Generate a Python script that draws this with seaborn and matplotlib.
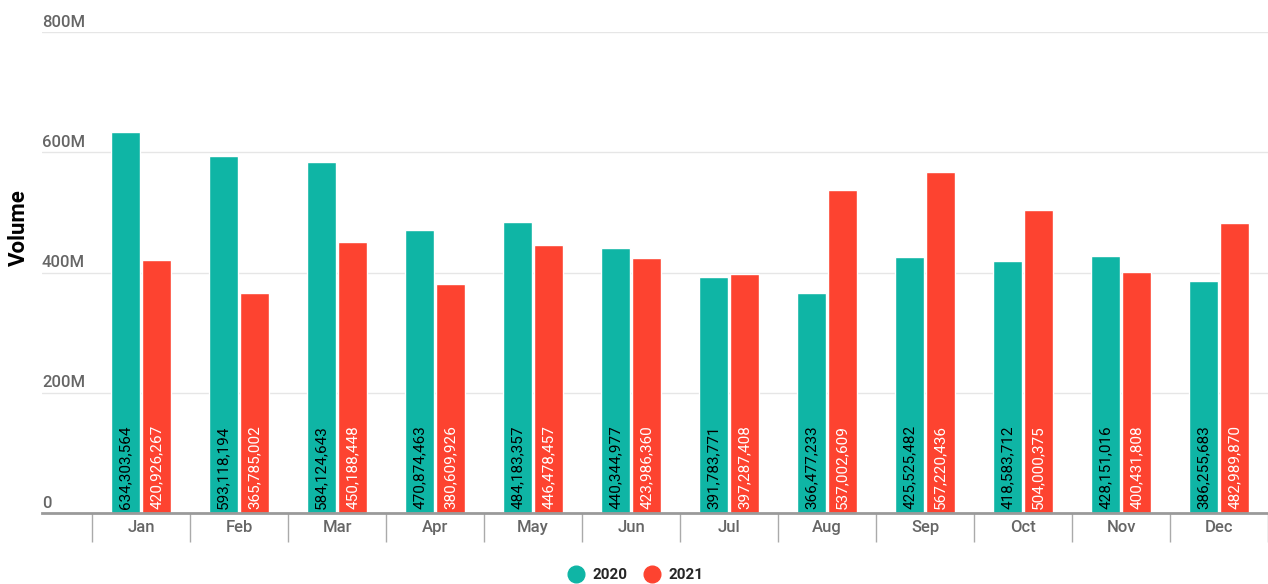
import pandas as pd
import seaborn as sns
import matplotlib.pyplot as plt

months = ["Jan", "Feb", "Mar", "Apr", "May", "Jun", "Jul", "Aug", "Sep", "Oct", "Nov", "Dec"]
vol_2020 = [634303564, 593118194, 584124643, 470874463, 484183357, 440344977,
            391783771, 366477233, 425525482, 418583712, 428151016, 386255683]
vol_2021 = [420926267, 365785002, 450188448, 380609926, 446478457, 423986360,
            397287408, 537002609, 567220436, 504000375, 400431808, 482989870]
years = ["2020", "2021"]
yticks = [0, 200e6, 400e6, 600e6, 800e6]
ytick_labels = ["0", "200M", "400M", "600M", "800M"]

df = pd.DataFrame({
    "Month": months * 2,
    "Year": ["2020"] * 12 + ["2021"] * 12,
    "Volume": vol_2020 + vol_2021,
})

sns.set_style("white")
plt.rcParams['font.family'] = ['Roboto', 'DejaVu Sans']

colors = {"2020": "#0FB5A5", "2021": "#FD4330"}

fig = plt.figure(figsize=(12.68, 5.84), dpi=100)
ax = fig.add_axes([42 / 1268, 71 / 584, 1 - 42 / 1268, (513 - 32) / 584])

sns.barplot(data=df, x="Month", y="Volume", hue="Year", order=months, hue_order=years,
            palette=colors, width=0.63, gap=0.04, saturation=1, ax=ax, legend=False)

ax.set_ylim(0, 800e6)
ax.set_xlim(-0.5 - 50 / 98, 11.5)

# grid
ax.set_yticks(yticks)
ax.yaxis.grid(True, color="#e6e6e6", lw=1)
ax.set_axisbelow(True)
ax.tick_params(axis="y", length=0, labelleft=False)
for v, lab in zip(yticks, ytick_labels):
    ax.text(0, v + 4e6, lab, transform=ax.get_yaxis_transform(), ha="left", va="bottom",
            fontsize=12, color="#666666", fontweight="medium")

for s in ["top", "right", "left"]:
    ax.spines[s].set_visible(False)
ax.spines["bottom"].set_color("#9a9a9a")
ax.spines["bottom"].set_linewidth(2)

ax.set_xticks(range(12))
ax.set_xticklabels(months, fontsize=12, color="#666666", fontweight="medium")
ax.set_xticks([i - 0.5 for i in range(13)], minor=True)
ax.tick_params(axis="x", which="major", bottom=False, length=0, pad=5)
ax.tick_params(axis="x", which="minor", bottom=True, length=21, color="#aaaaaa", width=1)
ax.set_xlabel("")
ax.set_ylabel("")
fig.text(19 / 1268, 1 - 228 / 584, "Volume", rotation=90, ha="center", va="center",
         fontsize=16, color="black", fontweight="semibold")

# value labels at the base of each bar
for cont, year in zip(ax.containers, years):
    txt_color = "black" if year == "2020" else "white"
    for bar in cont:
        h = bar.get_height()
        ax.text(bar.get_x() + bar.get_width() / 2, 6e6, f"{int(round(h)):,}",
                rotation=90, ha="center", va="bottom", fontsize=11, color=txt_color)

handles = [plt.Line2D([], [], marker="o", ls="", markersize=12, color=colors[y]) for y in years]
fig.legend(handles, years, loc="center", bbox_to_anchor=(632 / 1268, 1 - 575 / 584), ncol=2,
           frameon=False, handletextpad=0.1, columnspacing=0.6,
           prop={"size": 11, "weight": "bold"})

fig.savefig("out.png", dpi=100)
